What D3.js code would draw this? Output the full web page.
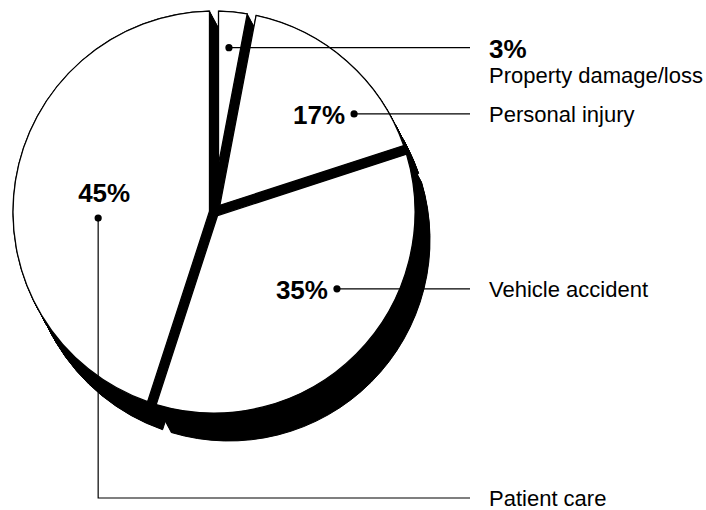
<!DOCTYPE html>
<html>
<head>
<meta charset="utf-8">
<script src="https://cdn.jsdelivr.net/npm/d3@7"></script>
<style>
  html, body { margin: 0; padding: 0; background: #fff; }
  text { font-family: "Liberation Sans", Arial, Helvetica, sans-serif; fill: #000; }
</style>
</head>
<body>
<div id="chart"></div>
<script>
// Slices clockwise from twelve o'clock
const categories = ["Property damage/loss", "Personal injury", "Vehicle accident", "Patient care"];
const shares = [3, 17, 35, 45];
const shareLabels = ["3%", "17%", "35%", "45%"];

// where each leader line starts inside its slice (degrees from top, radius in px)
const anchorAngle = [5.2, 55, 122, 267];
const anchorRadius = [165, 171, 145, 116];

const width = 706, height = 510;
const cx = 214, cy = 212, R = 201;
const halfGap = 4.5;              // slices pulled apart by a constant-width gap
const depthX = 15, depthY = 28;   // extrusion of the black "3D" walls
const lineEnd = 470, textX = 489;

const svg = d3.select('#chart')
    .append('svg')
    .attr('width', width)
    .attr('height', height);

svg.append('rect')
    .attr('width', width)
    .attr('height', height)
    .attr('fill', '#fff');

const arcs = d3.pie().sort(null)(shares);

// wedge with both straight edges moved inward by halfGap (parallel gaps)
function slicePath(d) {
    const a0 = d.startAngle, a1 = d.endAngle;
    const half = (a1 - a0) / 2, mid = (a0 + a1) / 2;
    const dv = halfGap / Math.sin(half);
    const delta = Math.asin(halfGap / R);
    const p = d3.path();
    p.moveTo(dv * Math.sin(mid), -dv * Math.cos(mid));
    p.arc(0, 0, R, a0 + delta - Math.PI / 2, a1 - delta - Math.PI / 2, false);
    p.closePath();
    return p.toString();
}

const g = svg.append('g').attr('transform', `translate(${cx},${cy})`);

// Walls: black copies swept along the depth vector
const steps = d3.range(0, 1.0001, 1 / 40);
const walls = g.append('g');
arcs.forEach(d => {
    steps.forEach(t => {
        walls.append('path')
            .attr('d', slicePath(d))
            .attr('transform', `translate(${t * depthX},${t * depthY})`)
            .attr('fill', '#000')
            .attr('stroke', '#000')
            .attr('stroke-width', 1);
    });
});

// Faces
g.selectAll('path.face')
    .data(arcs)
    .join('path')
    .attr('class', 'face')
    .attr('d', slicePath)
    .attr('fill', '#fff')
    .attr('stroke', '#000')
    .attr('stroke-width', 1.3);

// anchor point for slice i
function anchor(i) {
    const a = anchorAngle[i] * Math.PI / 180;
    return [cx + anchorRadius[i] * Math.sin(a), cy - anchorRadius[i] * Math.cos(a)];
}

const labels = svg.append('g');

categories.forEach((name, i) => {
    const [x, y] = anchor(i);
    const last = i === categories.length - 1;
    const lineY = last ? 498 : y;

    // leader line
    const pts = last
        ? [[x, y], [x, lineY], [lineEnd, lineY]]
        : [[x, y], [lineEnd, y]];
    labels.append('path')
        .attr('d', d3.line()(pts))
        .attr('fill', 'none')
        .attr('stroke', '#000')
        .attr('stroke-width', 1.2);

    labels.append('circle')
        .attr('cx', x)
        .attr('cy', y)
        .attr('r', 3.6)
        .attr('fill', '#000');

    // percentage
    const pct = labels.append('text')
        .attr('font-size', 26)
        .attr('font-weight', 'bold')
        .text(shareLabels[i]);
    if (i === 0) {
        pct.attr('x', textX).attr('y', y + 10);
        labels.append('text')
            .attr('x', textX)
            .attr('y', y + 35)
            .attr('font-size', 22)
            .text(name);
    } else if (last) {
        pct.attr('x', x + 6).attr('y', y - 16).attr('text-anchor', 'middle');
        labels.append('text')
            .attr('x', textX)
            .attr('y', lineY + 8)
            .attr('font-size', 22)
            .text(name);
    } else {
        pct.attr('x', x - 9).attr('y', y + 10).attr('text-anchor', 'end');
        labels.append('text')
            .attr('x', textX)
            .attr('y', y + 8)
            .attr('font-size', 22)
            .text(name);
    }
});
</script>
</body>
</html>
